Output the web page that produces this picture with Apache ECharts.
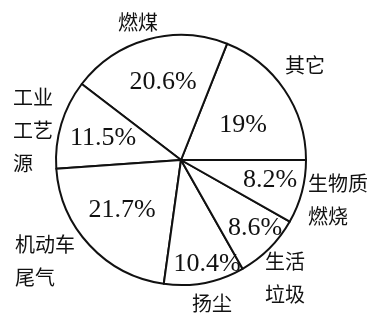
<!DOCTYPE html>
<html><head><meta charset="utf-8">
<script src="https://cdn.jsdelivr.net/npm/echarts@6/dist/echarts.min.js"></script>
<style>html,body{margin:0;padding:0;background:#fff}#c{width:379px;height:320px}</style>
</head><body><div id="c"></div>
<script>
// Data
const categories = ['其它', '燃煤', '工业工艺源', '机动车尾气', '扬尘', '生活垃圾', '生物质燃烧'];
const values = [19, 20.6, 11.5, 21.7, 10.4, 8.6, 8.2];
const valueLabels = ['19%', '20.6%', '11.5%', '21.7%', '10.4%', '8.6%', '8.2%'];
const nameLabels = ['其它', '燃煤', '工业\n工艺\n源', '机动车\n尾气', '扬尘', '生活\n垃圾', '生物质\n燃烧'];

// Layout (label anchors relative to pie center, px)
const CX = 181, CY = 160, R = 125;
const inPos = [[62,-35],[-18,-78],[-78,-22],[-59,50],[26,104],[74,68],[89,20]];
const outPos = [[124,-95,'center'],[-43,-138,'center'],[-168,-30,'left'],[-166,101,'left'],[31,143,'center'],[84,118,'left'],[127,40,'left']];

const chart = echarts.init(document.getElementById('c'), null, {renderer:'canvas'});
const dataA = categories.map((n,i)=>({name:n, value:values[i]}));
chart.setOption({
  backgroundColor:'#fff',
  animation:false,
  series:[
    {
      type:'pie', center:[CX,CY], radius:R, startAngle:0, clockwise:false,
      silent:true, avoidLabelOverlap:false,
      data:dataA,
      itemStyle:{color:'#fff', borderColor:'#111', borderWidth:2},
      emphasis:{disabled:true},
      label:{show:true, position:'inside', formatter:p=>valueLabels[p.dataIndex], overflow:'none',
        fontFamily:'Liberation Serif', fontSize:26, color:'#111'},
      labelLine:{show:false},
      labelLayout:p=>({x:CX+inPos[p.dataIndex][0], y:CY+inPos[p.dataIndex][1], align:'center', verticalAlign:'middle', hideOverlap:false})
    },
    {
      type:'pie', center:[CX,CY], radius:R, startAngle:0, clockwise:false,
      silent:true, avoidLabelOverlap:false,
      data:dataA,
      itemStyle:{color:'rgba(0,0,0,0)', borderWidth:0},
      emphasis:{disabled:true},
      label:{show:true, position:'outside', alignTo:'none', overflow:'none', formatter:p=>nameLabels[p.dataIndex],
        fontFamily:'Noto Sans CJK SC', fontSize:20, lineHeight:33, color:'#111'},
      labelLine:{show:false},
      labelLayout:p=>({x:CX+outPos[p.dataIndex][0], y:CY+outPos[p.dataIndex][1], align:outPos[p.dataIndex][2], verticalAlign:'middle', hideOverlap:false})
    }
  ]
});
</script></body></html>
